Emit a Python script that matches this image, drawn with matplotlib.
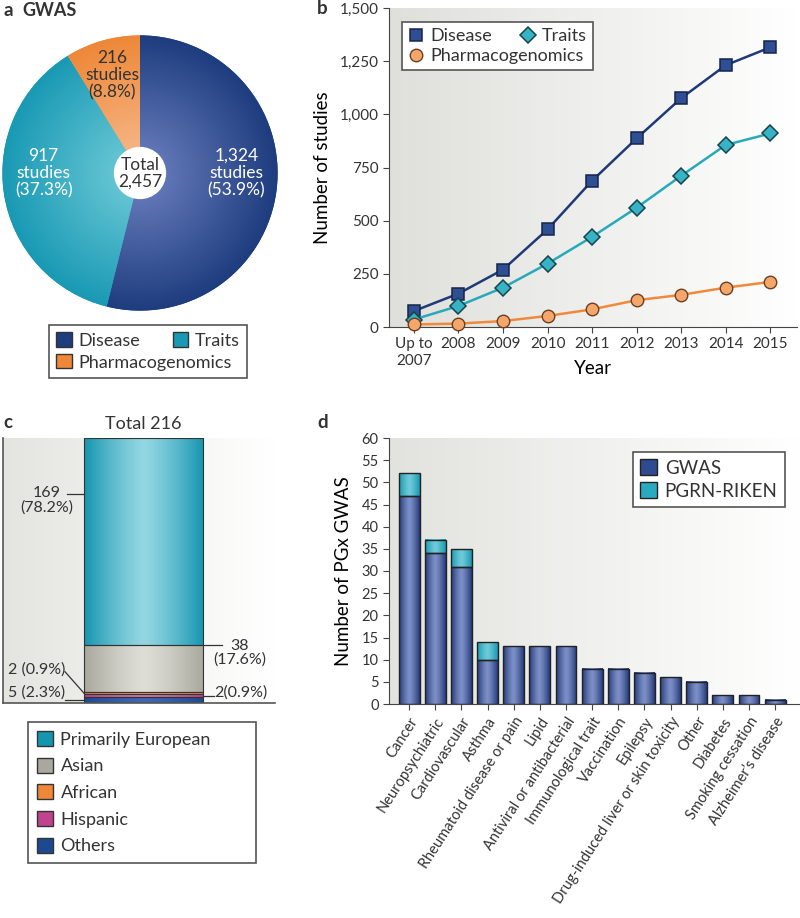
import numpy as np
import matplotlib.pyplot as plt
from matplotlib.colors import LinearSegmentedColormap
from matplotlib.patches import Patch, Circle
from matplotlib.lines import Line2D
from matplotlib.ticker import FuncFormatter, MultipleLocator

plt.rcParams['font.family'] = ['Lato', 'DejaVu Sans']
TXT = '#333333'
plt.rcParams['text.color'] = TXT

# (a) GWAS split
pie_labels = ['Disease', 'Traits', 'Pharmacogenomics']
pie_vals   = [1324, 917, 216]

# (b) studies per year
years   = ['Up to\n2007', '2008', '2009', '2010', '2011', '2012', '2013', '2014', '2015']
disease = [75, 157, 270, 459, 688, 887, 1076, 1231, 1315]
traits  = [35, 99, 185, 298, 424, 561, 711, 856, 910]
pgx     = [12, 16, 28, 52, 83, 126, 151, 185, 212]

# (c) ancestry of PGx GWAS
anc_labels = ['Primarily European', 'Asian', 'African', 'Hispanic', 'Others']
anc_vals   = [169, 38, 2, 2, 5]

# (d) PGx GWAS per therapeutic area
areas = ['Cancer', 'Neuropsychiatric', 'Cardiovascular', 'Asthma', 'Rheumatoid disease or pain',
         'Lipid', 'Antiviral or antibacterial', 'Immunological trait', 'Vaccination', 'Epilepsy',
         'Drug-induced liver or skin toxicity', 'Other', 'Diabetes', 'Smoking cessation',
         'Alzheimer\u2019s disease']
gwas = [47, 34, 31, 10, 13, 13, 13, 8, 8, 7, 6, 5, 2, 2, 1]
pgrn = [5, 3, 4, 4, 0, 0, 0, 0, 0, 0, 0, 0, 0, 0, 0]

NAVY, NAVY_L = '#1e3d7e', '#6378b8'
TEAL, TEAL_L = '#1999b4', '#66c6d4'
ORNG, ORNG_L = '#ee8838', '#f6b585'
LEG_FS = 13


def box(l, t, r, b):
    return [l / 800, 1 - b / 918, (r - l) / 800, (b - t) / 918]


def fx(px):
    return px / 800


def fy(py):
    return 1 - py / 918


def bg(ax, c0, c1):
    cm = LinearSegmentedColormap.from_list('', [c0, c1])
    ax.imshow(np.linspace(0, 1, 256)[None, :], extent=(0, 1, 0, 1), transform=ax.transAxes,
              cmap=cm, aspect='auto', zorder=0, interpolation='bilinear')


def shade(ax, rects, c_edge, c_mid, z=2):
    cm = LinearSegmentedColormap.from_list('', [c_mid, c_edge])
    g  = np.abs(np.linspace(-1, 1, 101))[None, :] ** 1.3
    for r in rects:
        x0, y0, w, h = r.get_x(), r.get_y(), r.get_width(), r.get_height()
        if h <= 0:
            r.set_visible(False)
            continue
        ax.imshow(g, extent=(x0, x0 + w, y0, y0 + h), cmap=cm, aspect='auto', zorder=z,
                  interpolation='bilinear')
        r.set_facecolor('none')
        r.set_zorder(z + 0.5)


def legend_frame(leg):
    f = leg.get_frame()
    f.set_linewidth(1.2)
    f.set_edgecolor('#555555')


fig = plt.figure(figsize=(8, 9.18), dpi=100)

# ---------------- (a) ----------------
axa = fig.add_axes(box(1, 34, 279, 312))
dark  = [NAVY, TEAL, ORNG]
light = [NAVY_L, TEAL_L, ORNG_L]
wedges, _ = axa.pie(pie_vals, colors=dark, startangle=90, counterclock=False,
                    wedgeprops=dict(linewidth=0))
yy, xx = np.mgrid[-1:1:300j, -1:1:300j]
rr = np.hypot(xx, yy)
for w, c0, c1 in zip(wedges, light, dark):
    cm = LinearSegmentedColormap.from_list('', [c0, c1])
    im = axa.imshow(rr, extent=(-1, 1, -1, 1), origin='lower', cmap=cm, vmin=0.15, vmax=1.0, zorder=2)
    im.set_clip_path(w)
axa.add_patch(Circle((0, 0), 0.19, facecolor='white', edgecolor='none', zorder=5))
total = sum(pie_vals)
for w, v, col in zip(wedges, pie_vals, ['white', 'white', TXT]):
    mid = np.deg2rad((w.theta1 + w.theta2) / 2)
    if v / total > 0.3:
        x, y = 0.70 * np.sign(np.cos(mid)), 0.0
    else:
        x, y = 0.74 * np.cos(mid), 0.74 * np.sin(mid)
    axa.text(x, y, f'{v:,}\nstudies\n({100 * v / total:.1f}%)', ha='center', va='center',
             color=col, fontsize=12.5, linespacing=1.1, zorder=6)
axa.text(0, 0, f'Total\n{total:,}', ha='center', va='center', fontsize=12.5, linespacing=1.05, zorder=6)
axa.set_xlim(-1.01, 1.01)
axa.set_ylim(-1.01, 1.01)
axa.set_aspect('equal')
axa.axis('off')

fig.text(fx(3), fy(11), 'a', weight='bold', fontsize=13.5, va='center')
fig.text(fx(22), fy(11), 'GWAS', weight='bold', fontsize=13, va='center')

hp = [Patch(facecolor=c, edgecolor=TXT, lw=1) for c in dark]
leg = fig.legend([hp[0], hp[2], hp[1]], [pie_labels[0], pie_labels[2], pie_labels[1]], ncol=2,
                 loc='upper left', bbox_to_anchor=(fx(49), fy(325)), borderaxespad=0, fancybox=False,
                 framealpha=1, fontsize=LEG_FS, columnspacing=-3.3, handlelength=0.85, handleheight=0.85,
                 handletextpad=0.4, labelspacing=0.3, borderpad=0.4)
legend_frame(leg)

# ---------------- (b) ----------------
axb = fig.add_axes(box(389, 8, 797, 327))
bg(axb, '#dfdfdb', '#ffffff')
xb = np.arange(len(years))
axb.plot(xb, disease, color='#1f3a78', lw=1.8, marker='s', ms=8.5, mfc='#2f4f94', mec='#16244a',
         mew=1.1, clip_on=False, zorder=4)
axb.plot(xb, traits, color='#27a9bb', lw=1.8, marker='D', ms=8.5, mfc='#36b3c4', mec='#17434c',
         mew=1.1, clip_on=False, zorder=4)
axb.plot(xb, pgx, color='#f08a3a', lw=1.8, marker='o', ms=9, mfc='#f5a66a', mec='#6b4022',
         mew=1.0, clip_on=False, zorder=4)
axb.set_xlim(-0.56, 8.6)
axb.set_ylim(0, 1500)
axb.set_xticks(xb, years)
axb.yaxis.set_major_locator(MultipleLocator(250))
axb.yaxis.set_major_formatter(FuncFormatter(lambda v, p: f'{v:,.0f}'))
for s in ['top', 'right']:
    axb.spines[s].set_visible(False)
for s in ['left', 'bottom']:
    axb.spines[s].set_color('#444444')
axb.tick_params(direction='out', length=4, labelsize=11, colors='#444444', labelcolor=TXT)
axb.set_ylabel('Number of studies', fontsize=13.5, labelpad=6)
axb.set_xlabel('Year', fontsize=13.5)
axb.xaxis.set_label_coords(0.5, -0.105)
fig.text(fx(317), fy(9), 'b', weight='bold', fontsize=13.5, va='center')

hl = [Line2D([], [], ls='none', marker='s', ms=8.5, mfc='#2f4f94', mec='#16244a', mew=1.1),
      Line2D([], [], ls='none', marker='o', ms=9, mfc='#f5a66a', mec='#6b4022', mew=1.0),
      Line2D([], [], ls='none', marker='D', ms=8.5, mfc='#36b3c4', mec='#17434c', mew=1.1)]
leg = axb.legend(hl, ['Disease', 'Pharmacogenomics', 'Traits'], ncol=2, loc='upper left',
                 bbox_to_anchor=(fx(402), fy(22)), bbox_transform=fig.transFigure, borderaxespad=0,
                 fancybox=False, framealpha=1, fontsize=LEG_FS, columnspacing=-3.5, handlelength=0.9,
                 handletextpad=0.3, labelspacing=0.2, borderpad=0.35)
legend_frame(leg)

# ---------------- (c) ----------------
axc = fig.add_axes(box(3, 438, 275, 703))
bg(axc, '#e4e4e0', '#ffffff')
stack_vals = anc_vals[::-1]
stack_cols = [('#1d4a8e', '#3f6ab0'), ('#c0438f', '#d778b4'), ('#ee8838', '#f5a868'),
              ('#a8a89e', '#deded6'), ('#1596b0', '#92d6e2')]
bottoms = np.concatenate([[0], np.cumsum(stack_vals)[:-1]])
bar_x, bar_w = 0.5165, 0.4375
bars = axc.bar(bar_x, stack_vals, bottom=bottoms, width=bar_w, edgecolor='#333333', lw=0.8)
for r, (ce, cm_) in zip(bars, stack_cols):
    shade(axc, [r], ce, cm_)
axc.set_xlim(0, 1)
axc.set_ylim(0, sum(anc_vals))
axc.set_xticks([])
axc.set_yticks([])
for s in ['top', 'right']:
    axc.spines[s].set_visible(False)
for s in ['left', 'bottom']:
    axc.spines[s].set_color('#555555')
    axc.spines[s].set_linewidth(1.2)

bl, br = bar_x - bar_w / 2, bar_x + bar_w / 2
n_tot = sum(anc_vals)
pct = [f'{100 * v / n_tot:.1f}%' for v in anc_vals]
lead = dict(color='#333333', lw=0.9, clip_on=False, zorder=6)
# European
axc.plot([0.235, bl], [bottoms[4] + 0.73 * stack_vals[4]] * 2, **lead)
axc.text(0.162, bottoms[4] + 0.70 * stack_vals[4], f'{anc_vals[0]}\n({pct[0]})', ha='center',
         va='center', fontsize=11.5, linespacing=1.0)
# Asian
axc.plot([br, 0.805], [bottoms[3] + stack_vals[3]] * 2, **lead)
axc.text(0.871, bottoms[3] + stack_vals[3] - 6, f'{anc_vals[1]}\n({pct[1]})', ha='center',
         va='center', fontsize=11.5, linespacing=0.9)
# African
axc.plot([0.228, bl], [25.5, bottoms[2] + stack_vals[2] / 2], **lead)
axc.text(0.228, 27, f'{anc_vals[2]} ({pct[2]})', ha='right', va='center', fontsize=11.5)
# Others
axc.plot([0.228, bl], [bottoms[0] + stack_vals[0] / 2] * 2, **lead)
axc.text(0.228, 8.5, f'{anc_vals[4]} ({pct[4]})', ha='right', va='center', fontsize=11.5)
# Hispanic
axc.plot([br, 0.775], [bottoms[1] + stack_vals[1] / 2] * 2, **lead)
axc.text(0.775, 8.5, f'{anc_vals[3]}({pct[3]})', ha='left', va='center', fontsize=11.5)

fig.text(fx(143), fy(424), f'Total {n_tot}', ha='center', va='center', fontsize=13)
fig.text(fx(3), fy(423), 'c', weight='bold', fontsize=13.5, va='center')

hc = [Patch(facecolor=ce, edgecolor=TXT, lw=1) for ce, _ in stack_cols[::-1]]
leg = fig.legend(hc, anc_labels, loc='upper left', bbox_to_anchor=(fx(28), fy(861), 228 / 800, 139 / 918),
                 mode='expand', borderaxespad=0, fancybox=False, framealpha=1, fontsize=LEG_FS,
                 handlelength=0.9, handleheight=0.9, handletextpad=0.4, labelspacing=0.55, borderpad=0.5)
legend_frame(leg)

# ---------------- (d) ----------------
axd = fig.add_axes(box(389, 438, 800, 704))
bg(axd, '#e2e2de', '#ffffff')
xd = np.arange(len(areas))
b1 = axd.bar(xd, gwas, width=0.8, edgecolor='#222222', lw=1)
b2 = axd.bar(xd, pgrn, bottom=gwas, width=0.8, edgecolor='#222222', lw=1)
shade(axd, b1, '#22397a', '#7d8fc6')
shade(axd, b2, '#1698b0', '#6fcad8')
axd.set_xlim(-0.77, 14.95)
axd.set_ylim(0, 60)
axd.yaxis.set_major_locator(MultipleLocator(5))
axd.set_xticks(xd)
axd.set_xticklabels(areas, rotation=57, ha='right', rotation_mode='anchor', fontsize=10.5)
for s in ['top', 'right']:
    axd.spines[s].set_visible(False)
for s in ['left', 'bottom']:
    axd.spines[s].set_color('#444444')
axd.tick_params(direction='out', length=4, colors='#444444', labelcolor=TXT)
axd.tick_params(axis='y', labelsize=10.5)
axd.set_ylabel('Number of PGx GWAS', fontsize=13.5, labelpad=7)
fig.text(fx(317), fy(423), 'd', weight='bold', fontsize=13.5, va='center')

hd = [Patch(facecolor='#2f4a90', edgecolor='#222222', lw=1), Patch(facecolor='#2aaabf', edgecolor='#222222', lw=1)]
leg = axd.legend(hd, ['GWAS', 'PGRN-RIKEN'], loc='upper right', bbox_to_anchor=(fx(785), fy(452)),
                 bbox_transform=fig.transFigure, borderaxespad=0, fancybox=False, framealpha=1,
                 fontsize=13.5, handlelength=0.9, handleheight=0.9, handletextpad=0.4,
                 labelspacing=0.3, borderpad=0.4)
legend_frame(leg)

fig.savefig('out.png', dpi=100)
